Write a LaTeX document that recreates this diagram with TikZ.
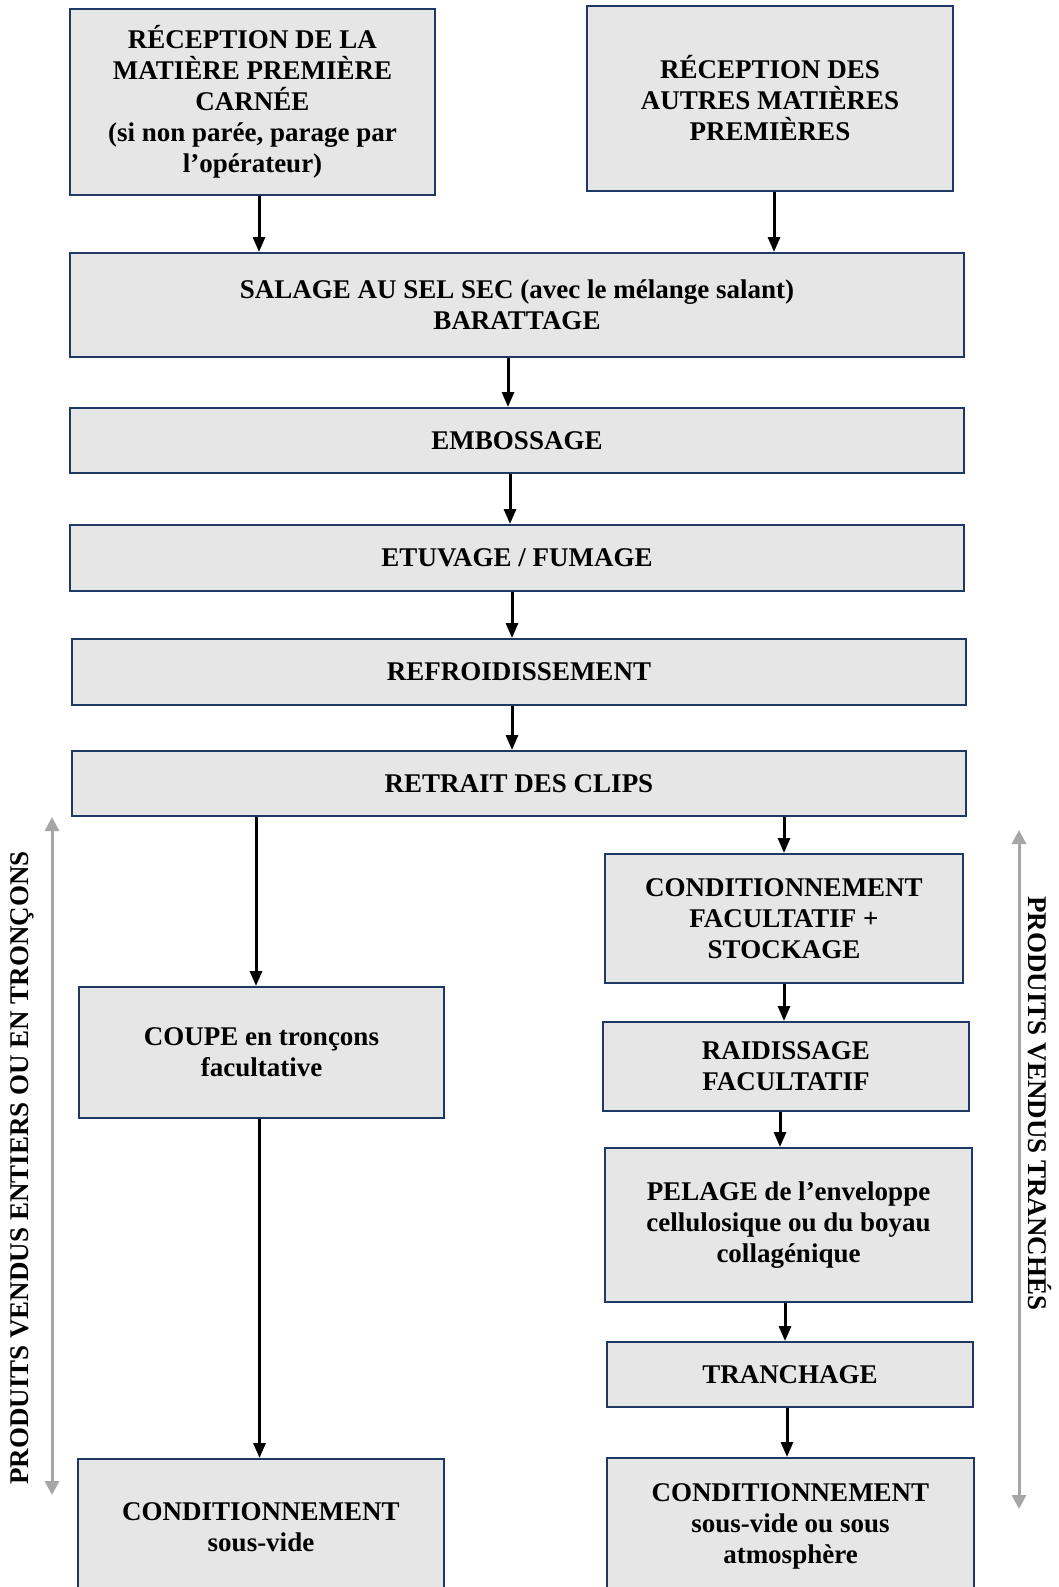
\documentclass[tikz,border=0pt]{standalone}
\usepackage{fontspec}
\setmainfont{Liberation Serif}
\usetikzlibrary{arrows.meta}
\definecolor{navy}{HTML}{203864}
\definecolor{boxgray}{HTML}{E6E6E6}
\definecolor{sidegray}{HTML}{A6A6A6}
\tikzset{
  box/.style={draw=navy, line width=2pt, fill=boxgray, align=center, inner sep=0pt,
    font=\fontsize{27}{31}\selectfont\bfseries},
  arr/.style={line width=3pt, -{Triangle[length=15pt,width=12pt]}},
  garr/.style={draw=sidegray, line width=3pt, {Triangle[length=14pt,width=14pt]}-{Triangle[length=14pt,width=14pt]}},
  sidelabel/.style={font=\fontsize{27}{31}\selectfont\bfseries, inner sep=0pt}
}
\begin{document}
\begin{tikzpicture}[x=1pt,y=-1pt]
\clip (0,0) rectangle (1058,1587);
\fill[white] (0,0) rectangle (1058,1587);

\node[box, minimum width=365pt, minimum height=186pt] (b1) at (252.5,102)
  {RÉCEPTION DE LA\\MATIÈRE PREMIÈRE\\CARNÉE\\(si non parée, parage par\\l’opérateur)};
\node[box, minimum width=366pt, minimum height=185pt] (b2) at (770,98.5)
  {RÉCEPTION DES\\AUTRES MATIÈRES\\PREMIÈRES};
\node[box, minimum width=894pt, minimum height=104pt] (salage) at (517,305)
  {SALAGE AU SEL SEC (avec le mélange salant)\\BARATTAGE};
\node[box, minimum width=894pt, minimum height=65pt] (emb) at (517,440.5) {EMBOSSAGE};
\node[box, minimum width=894pt, minimum height=66pt] (etu) at (517,558) {ETUVAGE / FUMAGE};
\node[box, minimum width=894pt, minimum height=66pt] (refr) at (519,672) {REFROIDISSEMENT};
\node[box, minimum width=894pt, minimum height=65pt] (retrait) at (519,783.5) {RETRAIT DES CLIPS};

\node[box, minimum width=365pt, minimum height=131pt] (coupe) at (261.5,1052.5)
  {COUPE en tronçons\\facultative};
\node[box, minimum width=366pt, minimum height=136pt] (condL) at (261,1527)
  {CONDITIONNEMENT\\sous-vide};

\node[box, minimum width=358pt, minimum height=129pt] (condfac) at (784,918.5)
  {CONDITIONNEMENT\\FACULTATIF +\\STOCKAGE};
\node[box, minimum width=366pt, minimum height=89pt] (raid) at (786,1066.5)
  {RAIDISSAGE\\FACULTATIF};
\node[box, minimum width=367pt, minimum height=154pt] (pelage) at (788.5,1225)
  {PELAGE de l’enveloppe\\cellulosique ou du boyau\\collagénique};
\node[box, minimum width=366pt, minimum height=65pt] (tranch) at (790,1374.5) {TRANCHAGE};
\node[box, minimum width=367pt, minimum height=136pt] (condR) at (790.5,1526)
  {CONDITIONNEMENT\\sous-vide ou sous\\atmosphère};

% connectors
\coordinate (a1) at ([xshift=6.5pt]b1.south);
\draw[arr] (a1) -- (a1 |- salage.north);
\coordinate (a2) at ([xshift=4pt]b2.south);
\draw[arr] (a2) -- (a2 |- salage.north);
\coordinate (a3) at ([xshift=-9pt]salage.south);
\draw[arr] (a3) -- (a3 |- emb.north);
\coordinate (a4) at ([xshift=-7pt]emb.south);
\draw[arr] (a4) -- (a4 |- etu.north);
\coordinate (a5) at ([xshift=-5pt]etu.south);
\draw[arr] (a5) -- (a5 |- refr.north);
\coordinate (a6) at ([xshift=-7pt]refr.south);
\draw[arr] (a6) -- (a6 |- retrait.north);
\coordinate (a7) at ([xshift=-5.5pt]coupe.north);
\draw[arr] (a7 |- retrait.south) -- (a7);
\coordinate (a8) at (condfac.north);
\draw[arr] (a8 |- retrait.south) -- (a8);
\coordinate (a9) at (condfac.south);
\draw[arr] (a9) -- (a9 |- raid.north);
\coordinate (a10) at ([xshift=-6pt]raid.south);
\draw[arr] (a10) -- (a10 |- pelage.north);
\coordinate (a11) at ([xshift=-3.5pt]pelage.south);
\draw[arr] (a11) -- (a11 |- tranch.north);
\coordinate (a12) at ([xshift=-3pt]tranch.south);
\draw[arr] (a12) -- (a12 |- condR.north);
\coordinate (a13) at ([xshift=-2pt]coupe.south);
\draw[arr] (a13) -- (a13 |- condL.north);

% side indications
\coordinate (lt) at (52,817);
\coordinate (lb) at (52,1495);
\draw[garr] (lt) -- (lb);
\coordinate (rt) at (1019,830);
\coordinate (rb) at (1019,1509);
\draw[garr] (rt) -- (rb);
\node[sidelabel, rotate=90] (lside) at (22,1168) {\bfseries PRODUITS VENDUS ENTIERS OU EN TRONÇONS};
\node[sidelabel, rotate=-90] (rside) at (1040,1103.5) {\bfseries PRODUITS VENDUS TRANCHÉS};
\end{tikzpicture}
\end{document}
